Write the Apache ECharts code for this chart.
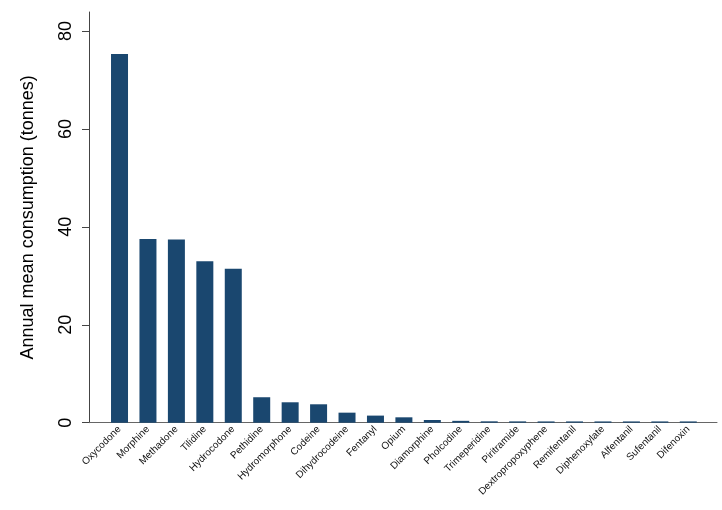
<!DOCTYPE html>
<html>
<head>
<meta charset="utf-8">
<script src="https://cdn.jsdelivr.net/npm/echarts@6/dist/echarts.min.js"></script>
<style>
html,body{margin:0;padding:0;background:#fff;}
#chart{width:722px;height:510px;}
</style>
</head>
<body>
<div id="chart"></div>
<script>
var categories = ["Oxycodone","Morphine","Methadone","Tilidine","Hydrocodone","Pethidine","Hydromorphone","Codeine","Dihydrocodeine","Fentanyl","Opium","Diamorphine","Pholcodine","Trimeperidine","Piritramide","Dextropropoxyphene","Remifentanil","Diphenoxylate","Alfentanil","Sufentanil","Difenoxin"];
var consumption = [75.3,37.5,37.4,32.95,31.45,5.2,4.17,3.76,2.05,1.45,1.1,0.55,0.38,0.28,0.27,0.26,0.26,0.26,0.26,0.26,0.26];
var yTicks = [0,20,40,60,80];
var yTitle = "Annual mean consumption (tonnes)";

var font = "Liberation Sans, Arial, Helvetica, sans-serif";
var chart = echarts.init(document.getElementById('chart'), null, {renderer:'canvas'});
chart.setOption({
  animation:false,
  backgroundColor:'#ffffff',
  grid:[
    {left:105.3, right:19.5, top:31, bottom:87.3},
    {left:89, right:5, top:12, bottom:87.3}
  ],
  xAxis:[
    {type:'category', gridIndex:0, data:categories,
     axisLine:{show:false}, axisTick:{show:false},
     axisLabel:{rotate:45, fontSize:10, color:'#111', fontFamily:font, margin:5, interval:0}},
    {type:'value', gridIndex:1, min:0, max:1,
     axisLine:{show:true, lineStyle:{color:'#666', width:1}},
     axisTick:{show:false}, axisLabel:{show:false}, splitLine:{show:false}}
  ],
  yAxis:[
    {type:'value', gridIndex:0, min:yTicks[0], max:yTicks[yTicks.length-1], interval:20, offset:16.3,
     axisLine:{show:false},
     axisTick:{show:true, length:7, lineStyle:{color:'#444'}},
     axisLabel:{rotate:90, fontSize:18, color:'#000', fontFamily:font, margin:14},
     splitLine:{show:false}},
    {type:'value', gridIndex:1, min:0, max:1,
     axisLine:{show:true, lineStyle:{color:'#444', width:1}},
     axisTick:{show:false}, axisLabel:{show:false}, splitLine:{show:false},
     name:yTitle, nameLocation:'middle', nameGap:52, nameRotate:90,
     nameTextStyle:{fontSize:18, color:'#000', fontFamily:font}}
  ],
  series:[{
    type:'bar', xAxisIndex:0, yAxisIndex:0, data:consumption,
    barWidth:17, itemStyle:{color:'#1a476f'}, z:5
  }]
});
</script>
</body>
</html>
